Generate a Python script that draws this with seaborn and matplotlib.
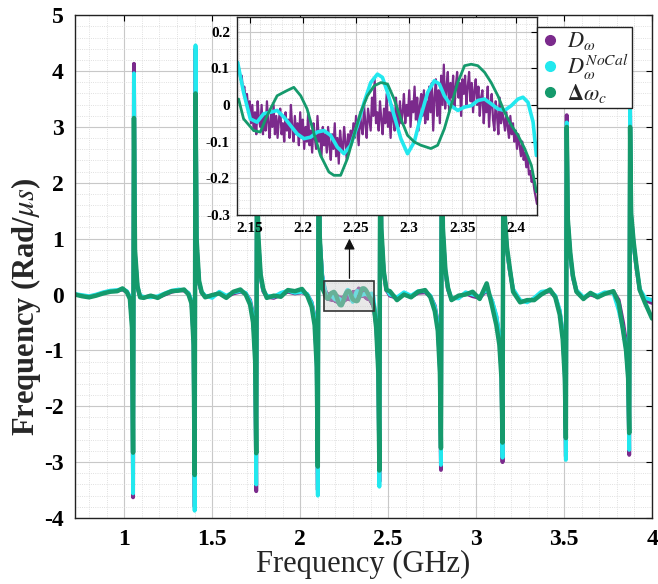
import numpy as np
import pandas as pd
import matplotlib
matplotlib.use("Agg")
import matplotlib.pyplot as plt
import seaborn as sns
from matplotlib.lines import Line2D
from matplotlib.patches import Rectangle
from matplotlib.ticker import MultipleLocator, FixedLocator, FixedFormatter

sns.set_theme(style="white")
plt.rcParams['font.family'] = ['Liberation Serif', 'DejaVu Serif']
plt.rcParams['mathtext.fontset'] = 'stix'
plt.rcParams['axes.unicode_minus'] = False

# ---------------- data: main view (outside the zoomed window) ----------------
left_x = [0.72, 0.76, 0.80, 0.84, 0.88, 0.92,
          0.96, 0.99, 1.015, 1.032, 1.044, 1.05, 1.055, 1.061, 1.075, 1.09, 1.11, 1.15, 1.19, 1.23, 1.27,
          1.31, 1.34, 1.365, 1.382, 1.394, 1.40, 1.405, 1.411, 1.425, 1.44, 1.46, 1.50, 1.54, 1.58, 1.62,
          1.66, 1.69, 1.715, 1.732, 1.744, 1.75, 1.755, 1.761, 1.775, 1.79, 1.81, 1.85, 1.89, 1.93, 1.97,
          2.01, 2.04, 2.065, 2.082, 2.094, 2.10, 2.105, 2.111, 2.125]
left_p = [0.0, -0.02, -0.04, -0.01, 0.03, 0.06,
          0.07, 0.09, 0.05, -0.05, -0.5, -3.63, 4.13, 0.7, 0.12, -0.03, -0.05, -0.03, -0.05, 0.0, 0.05,
          0.08, 0.07, 0.02, -0.12, -0.8, -3.80, 4.40, 0.9, 0.2, 0.03, -0.03, -0.02, 0.03, -0.04, 0.02,
          0.05, 0.02, -0.1, -0.35, -1.1, -3.52, 4.0, 1.0, 0.3, 0.06, -0.04, -0.06, 0.0, 0.05, 0.02,
          0.04, 0.0, -0.14, -0.4, -1.2, -3.50, 3.9, 1.0, 0.35]
left_c = [0.01, -0.01, -0.03, 0.0, 0.04, 0.07,
          0.08, 0.1, 0.06, -0.04, -0.5, -3.56, 3.96, 0.7, 0.14, -0.02, -0.04, -0.05, -0.03, 0.02, 0.07,
          0.09, 0.08, 0.03, -0.1, -0.8, -3.87, 4.46, 0.9, 0.22, 0.05, -0.02, -0.06, 0.05, -0.02, 0.04,
          0.06, 0.03, -0.12, -0.38, -1.1, -3.40, 3.9, 1.0, 0.32, 0.08, -0.02, -0.04, 0.03, 0.07, 0.03,
          0.05, 0.01, -0.15, -0.42, -1.2, -3.60, 3.8, 1.0, 0.34]
left_g = [0.0, -0.03, -0.05, -0.02, 0.02, 0.05,
          0.06, 0.11, 0.04, -0.08, -0.6, -2.83, 3.16, 0.8, 0.15, -0.05, -0.06, -0.02, -0.06, 0.01, 0.06,
          0.07, 0.09, 0.0, -0.16, -0.9, -3.23, 3.60, 1.0, 0.25, 0.04, -0.05, -0.01, 0.02, -0.06, 0.05,
          0.09, 0.0, -0.18, -0.5, -1.2, -2.84, 3.3, 1.1, 0.36, 0.1, -0.06, -0.02, -0.04, 0.08, 0.06,
          0.10, -0.02, -0.22, -0.55, -1.3, -3.08, 3.2, 1.05, 0.12]

right_x = [2.432, 2.444, 2.45, 2.455, 2.461, 2.475, 2.49, 2.51, 2.55, 2.59, 2.63, 2.67,
           2.71, 2.74, 2.765, 2.782, 2.794, 2.80, 2.805, 2.811, 2.825, 2.84, 2.86, 2.90, 2.94, 2.98, 3.02,
           3.06, 3.09, 3.115, 3.132, 3.144, 3.15, 3.155, 3.161, 3.175, 3.19, 3.21, 3.25, 3.29, 3.33, 3.37,
           3.42, 3.45, 3.475, 3.492, 3.504, 3.51, 3.515, 3.521, 3.535, 3.55, 3.57, 3.61, 3.65, 3.69, 3.73,
           3.78, 3.81, 3.835, 3.852, 3.864, 3.87, 3.875, 3.881, 3.895, 3.91, 3.93, 3.96, 4.0]
right_p = [-0.55, -1.3, -3.35, 3.8, 1.1, 0.38, 0.08, -0.02, -0.06, 0.02, -0.04, 0.03,
           0.04, -0.03, -0.2, -0.5, -1.3, -3.14, 3.6, 1.1, 0.4, 0.09, -0.08, -0.05, 0.02, -0.03, -0.06,
           0.08, -0.12, -0.4, -0.75, -1.4, -3.00, 3.4, 1.4, 0.8, 0.45, 0.08, -0.12, -0.12, -0.08, 0.03,
           0.06, -0.04, -0.3, -0.7, -1.4, -2.90, 3.21, 1.3, 0.7, 0.3, 0.06, -0.06, 0.0, -0.04, 0.02,
           0.05, -0.1, -0.5, -0.85, -1.4, -2.87, 3.30, 1.4, 0.9, 0.5, 0.08, -0.1, -0.15]
right_c = [-0.45, -1.3, -3.44, 3.7, 1.1, 0.4, 0.1, 0.0, -0.05, 0.04, -0.02, 0.06,
           0.06, -0.02, -0.22, -0.52, -1.3, -3.05, 3.5, 1.1, 0.42, 0.11, -0.06, -0.07, 0.04, 0.0, -0.04,
           0.10, -0.1, -0.38, -0.72, -1.4, -2.92, 3.3, 1.4, 0.8, 0.47, 0.1, -0.1, -0.14, -0.06, 0.05,
           0.07, -0.02, -0.28, -0.68, -1.4, -2.96, 3.08, 1.3, 0.7, 0.32, 0.08, -0.05, 0.02, -0.02, 0.04,
           0.03, -0.28, -0.62, -0.95, -1.45, -2.78, 3.35, 1.4, 0.9, 0.52, 0.1, -0.06, -0.1]
right_g = [-0.6, -1.4, -3.15, 3.1, 1.2, 0.42, 0.08, 0.06, -0.1, 0.0, -0.05, 0.05,
           0.08, -0.05, -0.3, -0.65, -1.4, -2.75, 3.0, 1.2, 0.45, 0.12, -0.1, -0.02, 0.0, 0.05, -0.08,
           0.2, -0.2, -0.55, -0.9, -1.5, -2.65, 2.9, 1.5, 0.85, 0.5, 0.05, -0.14, -0.1, -0.1, 0.0,
           0.09, -0.05, -0.36, -0.8, -1.5, -2.57, 3.0, 1.35, 0.75, 0.34, 0.05, -0.08, 0.03, -0.05, 0.01,
           0.06, -0.15, -0.64, -1.0, -1.5, -2.48, 3.0, 1.45, 0.95, 0.55, 0.08, -0.15, -0.43]

# ---------------- data: zoomed window 2.14 - 2.42 GHz ----------------
zoom_p_start, zoom_p_step = 2.1375, 0.00125
zoom_p = [0.13, 0.11, 0.10, 0.07, 0.08, 0.04, 0.05, 0.01, 0.03, -0.02, 0.01,
          -0.05, 0.00, -0.07, -0.02, -0.08, 0.01, -0.04, -0.06, 0.00, -0.08,
          -0.03, -0.07, 0.01, -0.05, -0.09, -0.02, -0.06, 0.00, -0.08,
          -0.03, -0.09, -0.04, -0.01, -0.08, -0.05, -0.10, -0.02, -0.07, -0.04,
          -0.09, 0.00, -0.06, -0.10, -0.03, -0.08, -0.05, -0.11, -0.02,
          -0.09, -0.04, -0.12, -0.06, -0.10, -0.02, -0.11, -0.07, -0.13, -0.05,
          -0.09, -0.12, -0.03, -0.10, -0.07, -0.14, -0.06, -0.11, -0.08,
          -0.13, -0.06, -0.11, -0.15, -0.08, -0.12, -0.05, -0.14, -0.09, -0.16,
          -0.07, -0.11, -0.13, -0.06, -0.10, -0.15, -0.08, -0.12, -0.07,
          -0.10, -0.05, -0.09, -0.03, -0.07, -0.11, -0.02, -0.06, -0.08, 0.00,
          -0.05, -0.09, -0.01, -0.04, -0.07, 0.02, -0.03, 0.07, -0.05,
          -0.02, -0.07, 0.01, -0.04, -0.08, -0.01, -0.05, 0.03, -0.06, -0.02,
          -0.09, 0.00, -0.04, -0.07, 0.02, -0.03, -0.06, 0.01, -0.05,
          -0.02, 0.03, -0.05, 0.00, -0.03, 0.04, -0.06, 0.01, -0.02, 0.05,
          -0.04, 0.02, -0.07, 0.00, 0.03, -0.03, 0.04, -0.05, 0.01,
          -0.04, 0.05, -0.02, 0.06, -0.07, 0.02, 0.07, -0.03, 0.04, -0.05,
          0.08, 0.00, 0.11, -0.01, 0.05, 0.09, -0.02, 0.06, 0.02,
          0.08, -0.01, 0.05, 0.09, 0.02, 0.06, -0.03, 0.07, 0.03, 0.08,
          0.00, 0.05, 0.09, 0.01, 0.06, -0.02, 0.04, 0.07, 0.00,
          0.05, -0.03, 0.02, 0.04, -0.05, 0.01, -0.02, 0.05, -0.06, 0.00,
          0.03, -0.04, -0.07, 0.01, -0.03, -0.08, 0.02, -0.05, -0.02,
          -0.04, -0.07, -0.02, -0.06, -0.09, -0.03, -0.08, -0.05, -0.10, -0.07,
          -0.12, -0.08, -0.11, -0.14, -0.10, -0.15, -0.13, -0.17, -0.14, -0.19,
          -0.18, -0.21, -0.20, -0.23, -0.25, -0.27]

zoom_c_x = [2.1387, 2.1443, 2.1506, 2.1569, 2.1632, 2.1695, 2.1758, 2.1821, 2.1884, 2.1947,
            2.2010, 2.2072, 2.2135, 2.2198, 2.2261, 2.2324, 2.2387, 2.2450, 2.2513, 2.2576,
            2.2638, 2.2701, 2.2748, 2.2796, 2.2858, 2.2921, 2.2984, 2.3047, 2.3110, 2.3173,
            2.3236, 2.3283, 2.3330, 2.3393, 2.3456, 2.3519, 2.3582, 2.3645, 2.3708, 2.3770,
            2.3833, 2.3896, 2.3959, 2.4022, 2.4069, 2.4116, 2.4164, 2.4195]
zoom_c = [0.116, 0.034, -0.038, -0.047, -0.024, -0.020, -0.015, -0.033, -0.056, -0.079,
          -0.092, -0.088, -0.074, -0.070, -0.083, -0.115, -0.133, -0.110, -0.056, 0.007,
          0.061, 0.084, 0.075, 0.034, -0.029, -0.092, -0.133, -0.101, -0.029, 0.034,
          0.066, 0.057, 0.025, -0.002, -0.015, -0.006, -0.002, 0.012, 0.016, 0.003,
          -0.011, -0.015, -0.002, 0.016, 0.021, 0.007, -0.047, -0.138]

zoom_g_x = [2.1396, 2.1443, 2.1538, 2.1600, 2.1664, 2.1758, 2.1850, 2.1915, 2.1980, 2.2040,
            2.2100, 2.2167, 2.2245, 2.2292, 2.2355, 2.2418, 2.2480, 2.2544, 2.2607, 2.2670,
            2.2733, 2.2796, 2.2858, 2.2921, 2.2984, 2.3047, 2.3110, 2.3204, 2.3267, 2.3330,
            2.3393, 2.3456, 2.3520, 2.3582, 2.3645, 2.3708, 2.3770, 2.3833, 2.3896, 2.3960,
            2.4022, 2.4085, 2.4148, 2.4195]
zoom_g = [0.016, -0.038, -0.070, -0.074, -0.029, 0.025, 0.039, 0.048, 0.025, -0.011,
          -0.074, -0.138, -0.183, -0.192, -0.192, -0.147, -0.083, -0.020, 0.025, 0.052,
          0.061, 0.057, 0.016, -0.038, -0.083, -0.101, -0.110, -0.119, -0.110, -0.065,
          -0.002, 0.061, 0.107, 0.111, 0.107, 0.089, 0.061, 0.025, -0.020, -0.056,
          -0.083, -0.119, -0.165, -0.237]

series_names = [r'$D_{\omega}$', r'$D_{\omega}^{NoCal}$', r'$\mathbf{\Delta}\omega_c$']
colors = ['#7B2A8C', '#22E8EE', '#159A6C']
main_xticks = [1, 1.5, 2, 2.5, 3, 3.5, 4]
main_xticklabels = ['1', '1.5', '2', '2.5', '3', '3.5', '4']
main_yticks = [-4, -3, -2, -1, 0, 1, 2, 3, 4, 5]
main_yticklabels = ['-4', '-3', '-2', '-1', '0', '1', '2', '3', '4', '5']
zoom_xticks = [2.15, 2.2, 2.25, 2.3, 2.35, 2.4]
zoom_xticklabels = ['2.15', '2.2', '2.25', '2.3', '2.35', '2.4']
zoom_yticks = [-0.3, -0.2, -0.1, 0, 0.1, 0.2]
zoom_yticklabels = ['-0.3', '-0.2', '-0.1', '0', '0.1', '0.2']
zoom_xlim = (2.138, 2.42)
zoom_ylim = (-0.3, 0.24)

# ---------------- build tables ----------------
zoom_p_x = list(np.round(zoom_p_start + zoom_p_step * np.arange(len(zoom_p)), 5))
zoom_frames = [
    pd.DataFrame({'x': zoom_p_x, 'y': zoom_p}),
    pd.DataFrame({'x': zoom_c_x, 'y': zoom_c}),
    pd.DataFrame({'x': zoom_g_x, 'y': zoom_g}),
]
main_frames = [
    pd.DataFrame({'x': left_x + zoom_p_x + right_x, 'y': left_p + zoom_p + right_p}),
    pd.DataFrame({'x': left_x + zoom_c_x + right_x, 'y': left_c + zoom_c + right_c}),
    pd.DataFrame({'x': left_x + zoom_g_x + right_x, 'y': left_g + zoom_g + right_g}),
]
widths = [2.8, 2.8, 3.2]

fig = plt.figure(figsize=(6.58, 5.84), dpi=100)
fig.patch.set_facecolor('white')

def style_axes(a, labelsize, pad):
    a.set_facecolor('white')
    a.grid(True, which='major', color='#c8c8c8', lw=0.8, ls='-')
    a.grid(True, which='minor', color='#d6d6d6', lw=0.6, ls=':')
    a.tick_params(which='both', direction='in', top=True, right=True,
                  labelsize=labelsize, colors='black', pad=pad)
    a.tick_params(which='major', length=4, width=0.8)
    a.tick_params(which='minor', length=0)
    for s in a.spines.values():
        s.set_color('#222222')
        s.set_linewidth(1.0)
        s.set_visible(True)
    for lbl in a.get_xticklabels() + a.get_yticklabels():
        lbl.set_fontweight('bold')

# ---------------- main axes ----------------
ax = fig.add_axes([0.114, 0.113, 0.877, 0.861])
for df, c, lw in zip(main_frames, colors, widths):
    sns.lineplot(data=df, x='x', y='y', ax=ax, color=c, lw=lw, sort=False,
                 estimator=None, legend=False)
ax.set_xlim(0.72, 4.0)
ax.set_ylim(-4, 5)
ax.xaxis.set_major_locator(FixedLocator(main_xticks))
ax.xaxis.set_major_formatter(FixedFormatter(main_xticklabels))
ax.yaxis.set_major_locator(FixedLocator(main_yticks))
ax.yaxis.set_major_formatter(FixedFormatter(main_yticklabels))
ax.xaxis.set_minor_locator(MultipleLocator(0.1))
ax.yaxis.set_minor_locator(MultipleLocator(0.2))
style_axes(ax, 17, 8)
ax.set_xlabel('Frequency (GHz)', fontsize=22, fontweight='normal', labelpad=0)
ax.set_ylabel(r'Frequency (Rad/$\mu s$)', fontsize=22, fontweight='bold')
ax.yaxis.set_label_coords(-0.055, 0.42)

# zoom box + arrow
ax.add_patch(Rectangle((zoom_xlim[0], zoom_ylim[0]), zoom_xlim[1] - zoom_xlim[0],
                       zoom_ylim[1] - zoom_ylim[0], facecolor=(0.8, 0.8, 0.8, 0.45),
                       edgecolor='#333333', lw=1.2, zorder=5))
ax.annotate('', xy=(2.28, 1.05), xytext=(2.28, zoom_ylim[1]),
            arrowprops=dict(arrowstyle='-|>', color='#111111', lw=0.9, mutation_scale=16),
            zorder=6)

# ---------------- inset ----------------
axin = fig.add_axes([0.360, 0.632, 0.456, 0.339])
for df, c, lw in zip(zoom_frames, colors, [1.6, 2.6, 2.0]):
    sns.lineplot(data=df, x='x', y='y', ax=axin, color=c, lw=lw, sort=False,
                 estimator=None, legend=False)
axin.set_xlim(*zoom_xlim)
axin.set_ylim(*zoom_ylim)
axin.xaxis.set_major_locator(FixedLocator(zoom_xticks))
axin.xaxis.set_major_formatter(FixedFormatter(zoom_xticklabels))
axin.yaxis.set_major_locator(FixedLocator(zoom_yticks))
axin.yaxis.set_major_formatter(FixedFormatter(zoom_yticklabels))
axin.xaxis.set_minor_locator(MultipleLocator(0.01))
axin.yaxis.set_minor_locator(MultipleLocator(0.02))
style_axes(axin, 11, 5)
axin.set_xlabel('')
axin.set_ylabel('')

# ---------------- legend ----------------
handles = [Line2D([0], [0], marker='o', color='none', markerfacecolor=c,
                  markeredgecolor=c, markersize=7) for c in colors]
leg = fig.legend(handles, series_names, loc='upper left',
                 bbox_to_anchor=(537 / 658, 1 - 27 / 584), bbox_transform=fig.transFigure,
                 frameon=True, fancybox=False, framealpha=1, edgecolor='#222222',
                 fontsize=16, borderpad=0.15, handletextpad=0.3, labelspacing=0.0,
                 handlelength=0.9, borderaxespad=0)
leg.get_frame().set_linewidth(1.0)

fig.savefig('out.png', dpi=100, facecolor='white')
